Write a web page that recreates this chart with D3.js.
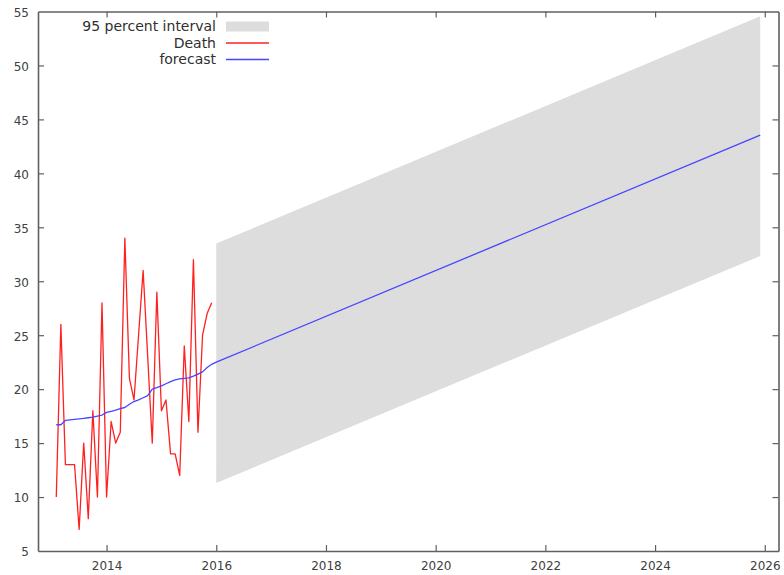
<!DOCTYPE html>
<html>
<head>
<meta charset="utf-8">
<script src="https://cdn.jsdelivr.net/npm/d3@7/dist/d3.min.js"></script>
<style>
html,body{margin:0;padding:0;background:#fff;}
svg{display:block;font-family:"DejaVu Sans",Verdana,sans-serif;}
</style>
</head>
<body>
<svg id="chart" width="784" height="575"></svg>
<script>
// ---- data (monthly, observed 2013:02 - 2015:12) ----
const obsStart = {year: 2013, month: 2};
const death = [10,26,13,13,13,7,15,8,18,10,28,10,17,15,16,34,21,19,25,31,23,15,29,18,19,14,14,12,24,17,32,16,25,27,28];
const fitted = [16.7,16.7,17.1,17.15,17.2,17.25,17.3,17.35,17.4,17.5,17.6,17.85,17.95,18.05,18.2,18.3,18.6,18.85,19.0,19.2,19.4,20.0,20.15,20.3,20.5,20.7,20.85,20.95,21.0,21.05,21.2,21.4,21.6,22.0,22.3];
// out-of-sample forecast (2016:01 and 2025:12, straight line between)
const fcTimes = [2016, 2025 + 11/12];
const forecast = [22.5, 43.55];
const lower = [11.3, 32.35];
const upper = [33.5, 54.55];
const xTicks = [2014, 2016, 2018, 2020, 2022, 2024, 2026];
const yTicks = [5, 10, 15, 20, 25, 30, 35, 40, 45, 50, 55];
const legendLabels = ["95 percent interval", "Death", "forecast"];

// ---- layout ----
const svg = d3.select("#chart");
const L = 38, R = 778.5, T = 11.5, B = 551;
const x = d3.scaleLinear().domain([2012.75, 2026.25]).range([L, R]);
const y = d3.scaleLinear().domain([5, 55]).range([B, T]);

const obsTime = (i) => obsStart.year + (obsStart.month - 1 + i) / 12;

// band
const bandData = fcTimes.map((t, i) => ({t, lo: lower[i], hi: upper[i]}));
svg.append("path")
  .datum(bandData)
  .attr("fill", "#dddddd")
  .attr("d", d3.area().x(d => x(d.t)).y0(d => y(d.lo)).y1(d => y(d.hi)));

// observed
svg.append("path")
  .datum(death)
  .attr("fill", "none")
  .attr("stroke", "#ff2020")
  .attr("stroke-width", 1.3)
  .attr("stroke-linejoin", "round")
  .attr("d", d3.line().x((d, i) => x(obsTime(i))).y(d => y(d)));

// forecast line (fitted + out-of-sample)
const fcLine = fitted.map((v, i) => ({t: obsTime(i), v}))
  .concat(fcTimes.map((t, i) => ({t, v: forecast[i]})));
svg.append("path")
  .datum(fcLine)
  .attr("fill", "none")
  .attr("stroke", "#4646ff")
  .attr("stroke-width", 1.3)
  .attr("stroke-linejoin", "round")
  .attr("d", d3.line().x(d => x(d.t)).y(d => y(d.v)));

// axes (gnuplot style: inward ticks, mirrored)
const axisColor = "#606060";
const tickLen = 6;
const gB = svg.append("g").attr("transform", `translate(0,${B})`)
  .call(d3.axisBottom(x).tickValues(xTicks).tickFormat(d3.format("d")).tickSizeInner(-tickLen).tickSizeOuter(0).tickPadding(10));
const gT = svg.append("g").attr("transform", `translate(0,${T})`)
  .call(d3.axisTop(x).tickValues(xTicks).tickFormat("").tickSizeInner(-tickLen).tickSizeOuter(0));
const gL = svg.append("g").attr("transform", `translate(${L},0)`)
  .call(d3.axisLeft(y).tickValues(yTicks).tickFormat(d3.format("d")).tickSizeInner(-tickLen).tickSizeOuter(0).tickPadding(9));
const gR = svg.append("g").attr("transform", `translate(${R},0)`)
  .call(d3.axisRight(y).tickValues(yTicks).tickFormat("").tickSizeInner(-tickLen).tickSizeOuter(0));
[gB, gT, gL, gR].forEach(g => {
  g.select(".domain").attr("stroke", axisColor).attr("stroke-width", 1.6);
  g.selectAll(".tick line").attr("stroke", axisColor).attr("stroke-width", 1.2);
  g.selectAll(".tick text").attr("fill", "#404040").attr("font-size", 12)
    .attr("font-family", '"DejaVu Sans",Verdana,sans-serif');
});
gL.selectAll(".tick text").attr("dy", "0.4em");
// hide ticks that sit on the frame corners
gL.selectAll(".tick line").filter(d => d === 5 || d === 55).attr("opacity", 0);
gR.selectAll(".tick line").filter(d => d === 5 || d === 55).attr("opacity", 0);

// legend
const legX = 216, legY0 = 26.5, legDy = 16.5;
const leg = svg.append("g").attr("font-size", 14).attr("fill", "#303030");
legendLabels.forEach((lab, i) => {
  const yy = legY0 + i * legDy;
  leg.append("text").attr("x", legX).attr("y", yy).attr("dy", "0.35em")
    .attr("text-anchor", "end").text(lab);
  if (i === 0) {
    leg.append("rect").attr("x", 226).attr("y", yy - 5).attr("width", 43).attr("height", 10).attr("fill", "#dddddd");
  } else {
    leg.append("line").attr("x1", 226).attr("x2", 269).attr("y1", yy).attr("y2", yy)
      .attr("stroke", i === 1 ? "#ff2020" : "#4646ff").attr("stroke-width", 1.3);
  }
});
</script>
</body>
</html>
